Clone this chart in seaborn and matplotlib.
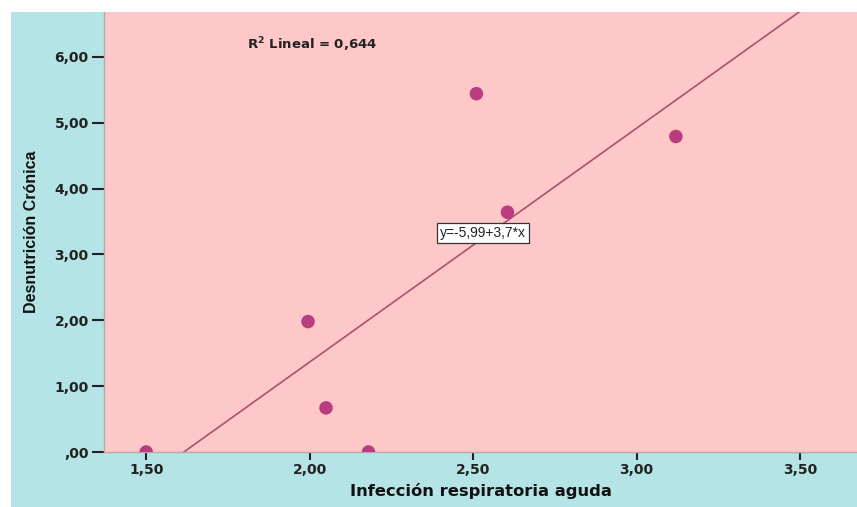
import matplotlib
matplotlib.use("Agg")
import matplotlib.pyplot as plt
import seaborn as sns
import pandas as pd
from matplotlib.ticker import FuncFormatter, FixedLocator
from matplotlib.patches import Rectangle

# Data
ira = [1.50, 1.995, 2.05, 2.18, 2.51, 2.605, 3.12]          # Infección respiratoria aguda
desnutricion = [0.0, 1.98, 0.67, 0.0, 5.44, 3.64, 4.79]     # Desnutrición Crónica
x_ticks = [1.5, 2.0, 2.5, 3.0, 3.5]
y_ticks = [0, 1, 2, 3, 4, 5, 6]
r2_label = "R$^2$ Lineal = 0,644"
eq_label = "y=-5,99+3,7*x"
x_title = "Infección respiratoria aguda"
y_title = "Desnutrición Crónica"

df = pd.DataFrame({"x": ira, "y": desnutricion})

sns.set_style("white")
plt.rcParams["font.family"] = ["DejaVu Sans"]
plt.rcParams["mathtext.default"] = "bf"

W, H = 857, 507
fig = plt.figure(figsize=(W / 100, H / 100), dpi=100, facecolor="white")
# cyan background panel (white strip at top and left)
fig.patches.append(Rectangle((11 / W, 0), 1 - 11 / W, (H - 12) / H,
                             transform=fig.transFigure, facecolor="#B4E4E6",
                             edgecolor="none", zorder=-10))

ax = fig.add_axes([104 / W, (H - 452) / H, (857 - 104) / W, (452 - 12) / H])
ax.set_zorder(5)
ax.set_facecolor("#FFC8C8")
ax.set_xlim(1.371, 3.674)
ax.set_ylim(0, 6.68)

sns.regplot(data=df, x="x", y="y", ax=ax, ci=None, truncate=False,
            scatter_kws=dict(s=95, color="#BA3C80", edgecolor="none", alpha=1,
                             zorder=3),
            line_kws=dict(color="#A8526E", linewidth=1.2, zorder=2))
for coll in ax.collections:
    coll.set_clip_on(True)
    coll.set_clip_path(ax.patch)

ax.xaxis.set_major_locator(FixedLocator(x_ticks))
ax.yaxis.set_major_locator(FixedLocator(y_ticks))

def fmt(v, pos):
    s = f"{v:.2f}".replace(".", ",")
    if s.startswith("0,"):
        s = s[1:]
    return s

ax.xaxis.set_major_formatter(FuncFormatter(fmt))
ax.yaxis.set_major_formatter(FuncFormatter(fmt))
ax.tick_params(axis="x", direction="out", length=6, width=1.5, color="#222222",
               labelsize=10, pad=2, bottom=True)
ax.tick_params(axis="y", direction="out", length=9, width=1.5, color="#222222",
               labelsize=10, pad=2, left=True)
for lab in ax.get_xticklabels() + ax.get_yticklabels():
    lab.set_fontweight("bold")
    lab.set_color("#222222")

for side in ["top", "right"]:
    ax.spines[side].set_visible(False)
for side in ["left", "bottom"]:
    ax.spines[side].set_color("#B8A8A8")
    ax.spines[side].set_linewidth(1.0)

ax.set_xlabel(x_title, fontsize=11.8, fontweight="bold", color="#111111", labelpad=4)
ax.set_ylabel(y_title, fontsize=11.5, fontweight="bold", color="#111111",
              family=["Liberation Sans", "DejaVu Sans"], labelpad=11)

ax.text(0.19, 0.925, r2_label, transform=ax.transAxes, fontsize=9.5,
        fontweight="bold", color="#222222", ha="left", va="center")
ax.text(0.503, 0.498, eq_label, transform=ax.transAxes, fontsize=10,
        family=["Liberation Sans", "DejaVu Sans"], color="#222222",
        ha="center", va="center",
        bbox=dict(boxstyle="square,pad=0.22", facecolor="white", edgecolor="#333333",
                  linewidth=0.9), zorder=5)

fig.savefig("out.png", dpi=100, facecolor=fig.get_facecolor())
